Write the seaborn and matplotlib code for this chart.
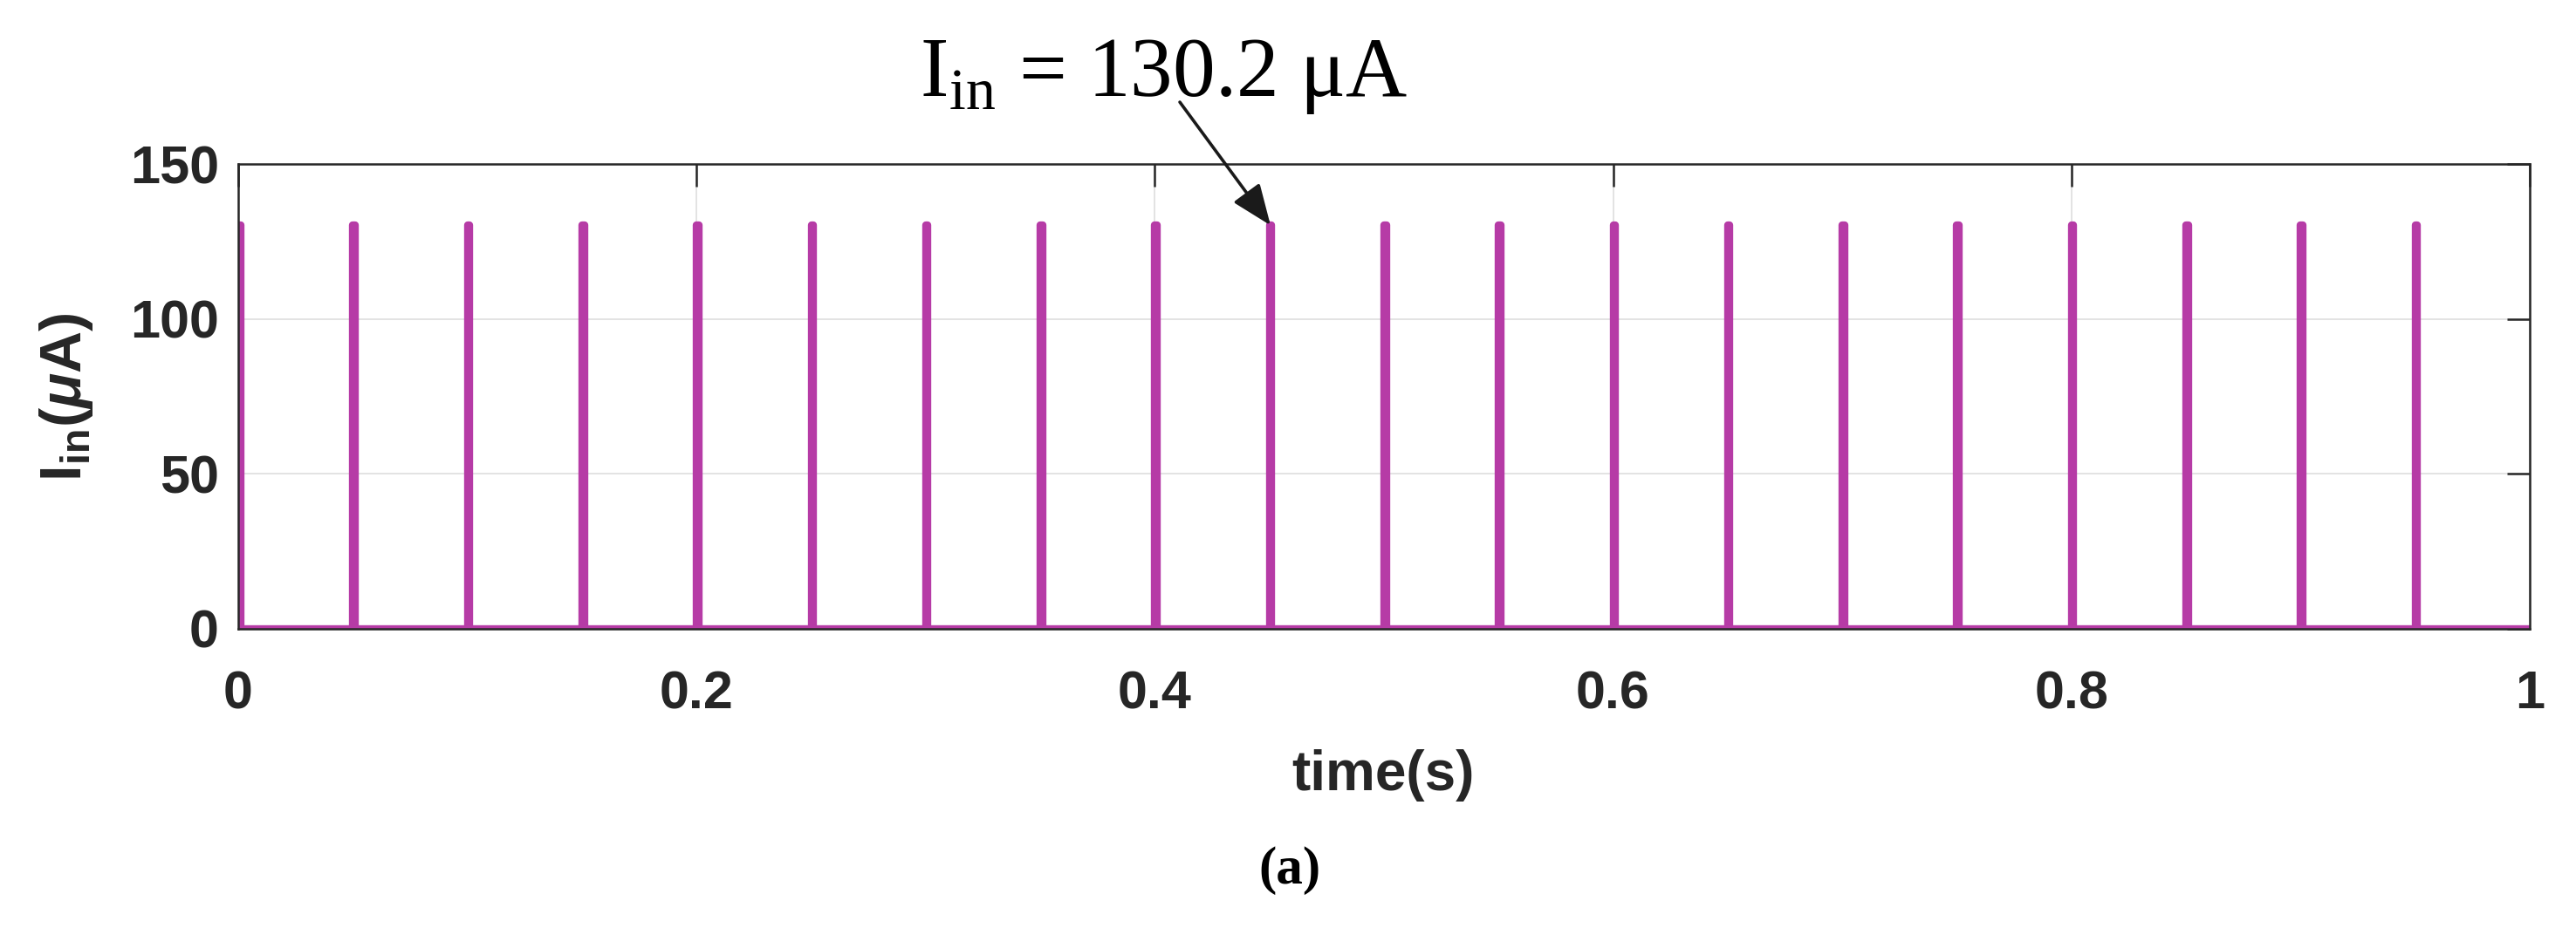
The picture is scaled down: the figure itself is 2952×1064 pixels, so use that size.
import numpy as np
import pandas as pd
import matplotlib
matplotlib.use("Agg")
import matplotlib.pyplot as plt
import seaborn as sns

# ---- data ----
pulse_times = [0.00, 0.05, 0.10, 0.15, 0.20, 0.25, 0.30, 0.35, 0.40, 0.45,
               0.50, 0.55, 0.60, 0.65, 0.70, 0.75, 0.80, 0.85, 0.90, 0.95]
pulse_peak = 130.2          # µA
pulse_width = [0.001]       # s
t_end = [1.0]
x_ticks = [0, 0.2, 0.4, 0.6, 0.8, 1.0]
x_tick_labels = ["0", "0.2", "0.4", "0.6", "0.8", "1"]
y_ticks = [0, 50, 100, 150]
y_tick_labels = ["0", "50", "100", "150"]
annot_pulse_index = 9

# build waveform table from the pulse list
ts, cs = [], []
for t0 in pulse_times:
    ts += [t0, t0, t0 + pulse_width[0], t0 + pulse_width[0]]
    cs += [0.0, pulse_peak, pulse_peak, 0.0]
ts.append(t_end[0]); cs.append(0.0)
df = pd.DataFrame({"time": ts, "current": cs})

# ---- style ----
sns.set_theme(style="white")
plt.rcParams["font.family"] = ["Liberation Sans", "DejaVu Sans"]
plt.rcParams["mathtext.fontset"] = "custom"
plt.rcParams["mathtext.rm"] = "Liberation Sans:bold"
plt.rcParams["mathtext.bf"] = "Liberation Sans:bold"
plt.rcParams["mathtext.it"] = "Liberation Sans:italic:bold"

TXT = "#262626"
MAG = "#B63BA6"

fig = plt.figure(figsize=(14.76, 5.32), dpi=200)
ax = fig.add_axes([0.0925, 0.3224, 0.982 - 0.0925, 0.8233 - 0.3224])

ax.grid(True, color="#dedede", linewidth=0.6, zorder=0)
ax.set_axisbelow(True)

sns.lineplot(data=df, x="time", y="current", ax=ax, color=MAG,
             estimator=None, sort=False, linewidth=3.0, zorder=2)
for l in ax.get_lines():
    l.set_solid_capstyle("round")
    l.set_solid_joinstyle("round")

ax.set_xlim(0, 1)
ax.set_ylim(0, 150)
ax.set_xticks(x_ticks)
ax.set_xticklabels(x_tick_labels)
ax.set_yticks(y_ticks)
ax.set_yticklabels(y_tick_labels)

for s in ax.spines.values():
    s.set_visible(True)
    s.set_color(TXT)
    s.set_linewidth(0.9)

ax.tick_params(axis="both", which="major", direction="in", length=9.5,
               width=0.9, color=TXT, top=True, right=True,
               labelsize=22, labelcolor=TXT)
ax.tick_params(axis="x", pad=17)
ax.tick_params(axis="y", pad=8)
for lab in ax.get_xticklabels() + ax.get_yticklabels():
    lab.set_fontweight("bold")

ax.set_xlabel("time(s)", fontsize=23, fontweight="bold", color=TXT)
ax.set_ylabel(r"I$_{\mathregular{in}}$($\mu$A)", fontsize=24,
              fontweight="bold", color=TXT)
ax.xaxis.set_label_coords(0.537, 0.193, transform=fig.transFigure)
ax.yaxis.set_label_coords(0.037, 0.5725, transform=fig.transFigure)

# annotation
fig.text(0.357, 0.897, r"I$_{\mathregular{in}}$ = 130.2 μA",
         family=["Liberation Serif", "DejaVu Serif"], fontsize=35,
         color="black", ha="left", va="baseline")
ax.annotate("", xy=(pulse_times[annot_pulse_index] + pulse_width[0] / 2, pulse_peak),
            xycoords="data", xytext=(0.458, 0.890), textcoords="figure fraction",
            arrowprops=dict(arrowstyle="-|>,head_length=0.45,head_width=0.18",
                            mutation_scale=32, color="#1a1a1a", lw=1.3,
                            shrinkA=0, shrinkB=0))

fig.text(0.5006, 0.062, "(a)", family=["Liberation Serif", "DejaVu Serif"],
         fontsize=22, fontweight="bold", color="black", ha="center", va="center")

fig.savefig("out.png", dpi=200, facecolor="white")
